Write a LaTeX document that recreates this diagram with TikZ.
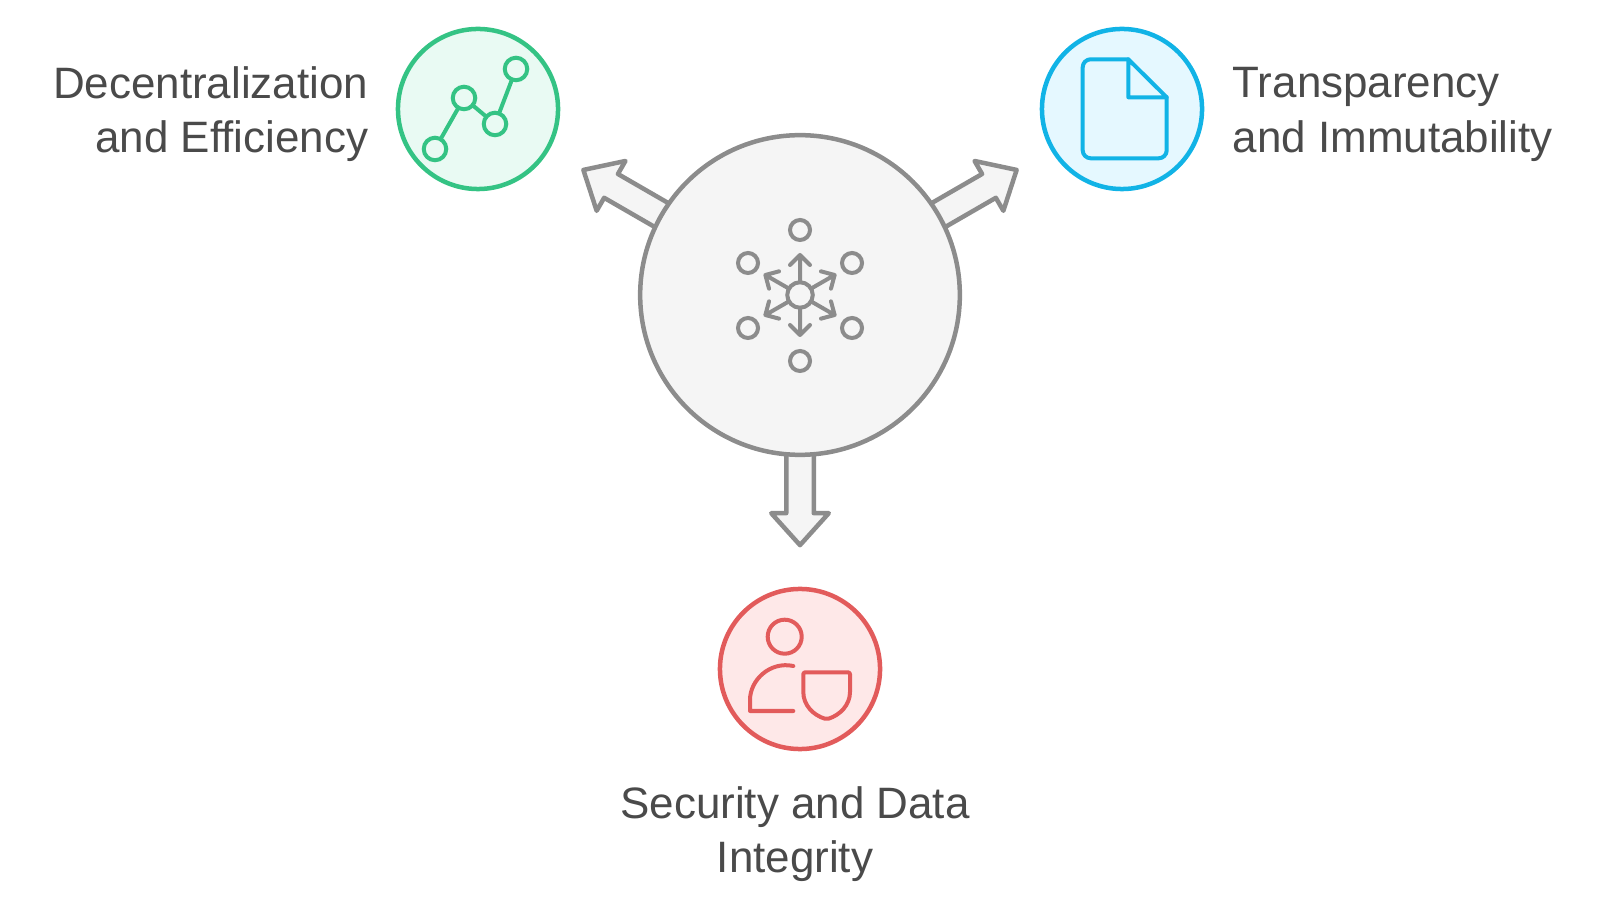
\documentclass[tikz,border=0pt]{standalone}
\usepackage{fontspec}
\setmainfont{Liberation Sans}
\usetikzlibrary{shapes.arrows}
\definecolor{hubline}{HTML}{8C8C8C}
\definecolor{hubfill}{HTML}{F5F5F5}
\definecolor{greenline}{HTML}{34C384}
\definecolor{greenfill}{HTML}{E9FAF3}
\definecolor{blueline}{HTML}{11B3E6}
\definecolor{bluefill}{HTML}{E5F8FF}
\definecolor{redline}{HTML}{E25B5B}
\definecolor{redfill}{HTML}{FEE8E8}
\definecolor{labelgray}{HTML}{4A4A4A}
\tikzset{
  topic/.style={circle,draw,line width=.045cm,minimum size=1.6cm,inner sep=0pt},
  dot/.style={circle,draw,line width=.04cm,minimum size=#1,inner sep=0pt,outer sep=0pt},
  blockarrow/.style={single arrow,draw=hubline,fill=hubfill,line width=.045cm,line join=round,
    minimum height=2.5cm,single arrow head extend=.15cm,
    single arrow tip angle=84,inner xsep=0pt,inner ysep=.115cm,outer sep=0pt,anchor=tail},
  caption/.style={text=labelgray,inner sep=0pt,font=\fontsize{12.5}{15.4}\selectfont},
  icon/.style={line width=.04cm,line cap=round,line join=round}
}
\begin{document}
\begin{tikzpicture}[x=.01cm,y=-.01cm]
  \useasboundingbox (0,0) rectangle (1600,910);
  \coordinate (hubc) at (800,295);
  % arrows sit under the hub
  \node[blockarrow,rotate=150] (arrowgreen) at (hubc) {};
  \node[blockarrow,rotate=30] (arrowblue) at (hubc) {};
  \node[blockarrow,rotate=270] (arrowred) at (hubc) {};
  \node[circle,draw=hubline,fill=hubfill,line width=.045cm,minimum size=3.195cm,inner sep=0pt] (hub) at (hubc) {};
  % hub icon
  \node[dot=.255cm,draw=hubline] (hubdot) at (hubc) {};
  \foreach \a in {30,90,150,210,270,330}
    \draw[icon,hubline,shift={(hubc)},rotate=\a] (12.7,0) -- (40,0) (30,10) -- (40,0) -- (30,-10);
  \foreach \x/\y [count=\i] in {800/230,852/263,852/328,800/361,748/328,748/263}
    \node[dot=.2cm,draw=hubline] (orbit\i) at (\x,\y) {};
  % green
  \node[topic,draw=greenline,fill=greenfill] (green) at (478,109) {};
  \node[dot=.225cm,draw=greenline] (g1) at (435,149) {};
  \node[dot=.225cm,draw=greenline] (g2) at (464,98) {};
  \node[dot=.225cm,draw=greenline] (g3) at (495,124) {};
  \node[dot=.225cm,draw=greenline] (g4) at (516,69) {};
  \draw[icon,greenline] (g1) -- (g2) (g2) -- (g3) (g3) -- (g4);
  \node[caption,align=right,anchor=east] (greentext) at (369,114) {Decentralization\\and Efficiency};
  % blue
  \node[topic,draw=blueline,fill=bluefill] (blue) at (1122,109) {};
  \draw[icon,blueline,rounded corners=.08cm] (1128.3,59.3) -- (1082.7,59.3) -- (1082.7,158.3) -- (1166.7,158.3) -- (1166.7,97.3);
  \draw[icon,blueline] (1128.3,59.3) -- (1166.7,97.3) -- (1128.3,97.3) -- cycle;
  \node[caption,align=left,anchor=west] (bluetext) at (1232,114.5) {Transparency\\and Immutability};
  % red
  \node[topic,draw=redline,fill=redfill] (red) at (800,669) {};
  \node[dot=.34cm,draw=redline] (head) at (784.7,636.7) {};
  \draw[icon,redline] (793.3,666) .. controls (770,661) and (750,680) .. (750,700) -- (750,711) -- (793.3,711);
  \draw[icon,redline,rounded corners=.02cm] (803.3,672.3) -- (850,672.3) -- (850,690) .. controls (850,705) and (840,715) .. (826.7,719.3) .. controls (813,715) and (803.3,705) .. (803.3,690) -- cycle;
  \node[caption,align=center,anchor=center] (redtext) at (795,834) {Security and Data\\Integrity};
\end{tikzpicture}
\end{document}
